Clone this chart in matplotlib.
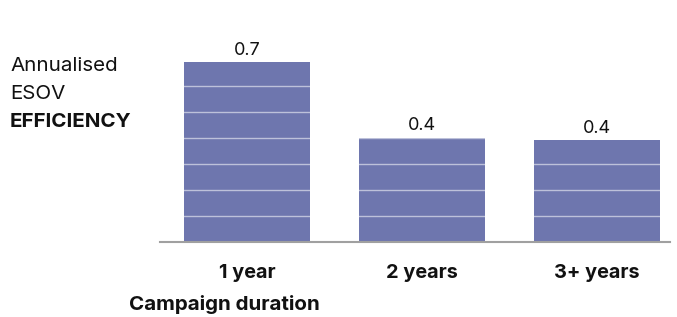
import numpy as np
import matplotlib
matplotlib.use('Agg')
import matplotlib.pyplot as plt

# data
categories = ['1 year', '2 years', '3+ years']
efficiency = [0.69, 0.40, 0.39]
value_labels = ['0.7', '0.4', '0.4']

bar_color = '#6e76ae'
plt.rcParams['font.family'] = ['Inter', 'DejaVu Sans']

fig = plt.figure(figsize=(6.77, 3.17), dpi=100)
ax = fig.add_axes([160/677, 1 - 241.5/317, 510/677, 208/317])

x = np.arange(len(categories))
ax.bar(x, efficiency, width=0.72, color=bar_color, zorder=1)

# light lines that show only across the bars
ax.set_yticks(np.arange(0.1, 0.8, 0.1))
ax.yaxis.grid(True, color='white', alpha=0.55, linewidth=1.0, zorder=2)
ax.set_axisbelow(False)

for xi, v, lab in zip(x, efficiency, value_labels):
    ax.annotate(lab, (xi, v), xytext=(0, 7), textcoords='offset pixels',
                ha='center', va='baseline', fontsize=13, color='#111111')

ax.set_xlim(-0.5, 2.42)
ax.set_ylim(0, 0.8)
ax.set_xticks(x)
ax.set_xticklabels(categories, fontsize=14.3, fontweight='bold', color='#111111')
ax.tick_params(axis='x', length=0, pad=16.5)
ax.tick_params(axis='y', length=0, labelleft=False)
for s in ['top', 'right', 'left']:
    ax.spines[s].set_visible(False)
ax.spines['bottom'].set_color('#a0a0a0')
ax.spines['bottom'].set_linewidth(1.5)

fig.text(10/677, 1 - 71/317, 'Annualised', fontsize=14.8, va='baseline', color='#111111')
fig.text(10/677, 1 - 99/317, 'ESOV', fontsize=14.8, va='baseline', color='#111111')
fig.text(10/677, 1 - 127.5/317, 'EFFICIENCY', fontsize=14.8, va='baseline',
         fontweight='bold', color='#111111')
fig.text(129/677, 1 - 310/317, 'Campaign duration', fontsize=14.8, va='baseline',
         fontweight='bold', color='#111111')

fig.savefig('out.png', dpi=100)
